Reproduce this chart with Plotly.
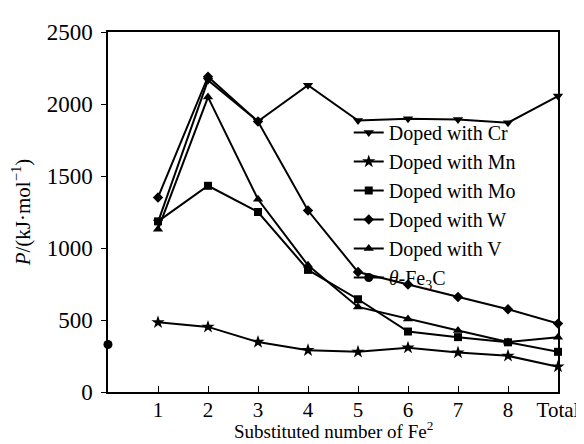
import plotly.graph_objects as go

x_pos = [1, 2, 3, 4, 5, 6, 7, 8, 9]
x_labels = ["1", "2", "3", "4", "5", "6", "7", "8", "Total"]

cr = [1180, 2165, 1880, 2130, 1885, 1897, 1893, 1870, 2055]
mn = [484, 452, 347, 290, 279, 308, 274, 251, 176]
mo = [1185, 1432, 1250, 848, 644, 420, 381, 345, 279]
w = [1351, 2190, 1878, 1260, 833, 747, 660, 575, 475]
v = [1130, 2048, 1338, 880, 591, 507, 427, 347, 381]
fe3c_x = [0]
fe3c = [330]

FONT = "Liberation Serif, Times New Roman, serif"

series = [
    ("Doped with Cr", cr, "triangle-down", 9),
    ("Doped with Mn", mn, "star", 10),
    ("Doped with Mo", mo, "square", 8),
    ("Doped with W", w, "diamond", 8),
    ("Doped with V", v, "triangle-up", 9),
]

fig = go.Figure()
for name, vals, sym, sz in series:
    fig.add_trace(go.Scatter(
        x=x_pos, y=vals, name=name, mode="lines+markers",
        line=dict(color="black", width=2),
        marker=dict(symbol=sym, size=sz, color="black"),
        cliponaxis=False,
    ))
fig.add_trace(go.Scatter(
    x=fe3c_x, y=fe3c, name="<i>θ</i>-Fe<sub>3</sub>C", mode="lines+markers",
    line=dict(color="black", width=2),
    marker=dict(symbol="circle", size=9, color="black"),
    cliponaxis=False,
))

fig.update_layout(
    width=584, height=444,
    margin=dict(l=99, r=26, t=19, b=60),
    paper_bgcolor="white", plot_bgcolor="white",
    font=dict(family=FONT, size=20, color="black"),
    showlegend=True,
    legend=dict(x=0.535, y=0.775, xanchor="left", yanchor="top",
                bgcolor="rgba(0,0,0,0)", font=dict(size=20),
                itemwidth=30, tracegroupgap=0),
    xaxis=dict(range=[0, 9], tickvals=x_pos, ticktext=x_labels,
               ticks="inside", ticklen=6, tickcolor="black",
               showline=True, linecolor="black", linewidth=1.5, mirror=True,
               showgrid=False, zeroline=False, ticklabelstandoff=-2,
               tickfont=dict(size=21)),
    yaxis=dict(range=[0, 2500], tickvals=[0, 500, 1000, 1500, 2000, 2500],
               ticks="outside", ticklen=5, tickcolor="black",
               showline=True, linecolor="black", linewidth=1.5, mirror=True,
               showgrid=False, zeroline=False, ticklabelstandoff=4,
               tickfont=dict(size=23),
               title=dict(text="<i>P</i>/(kJ·mol<sup>−1</sup>)", font=dict(size=21), standoff=12)),
    annotations=[dict(text="Substituted number of Fe<sup>2</sup>",
                      xref="paper", yref="paper", x=0.5, y=-0.142,
                      xanchor="center", yanchor="bottom", showarrow=False,
                      borderpad=0, font=dict(size=19))],
)

fig.write_html("out.html")
